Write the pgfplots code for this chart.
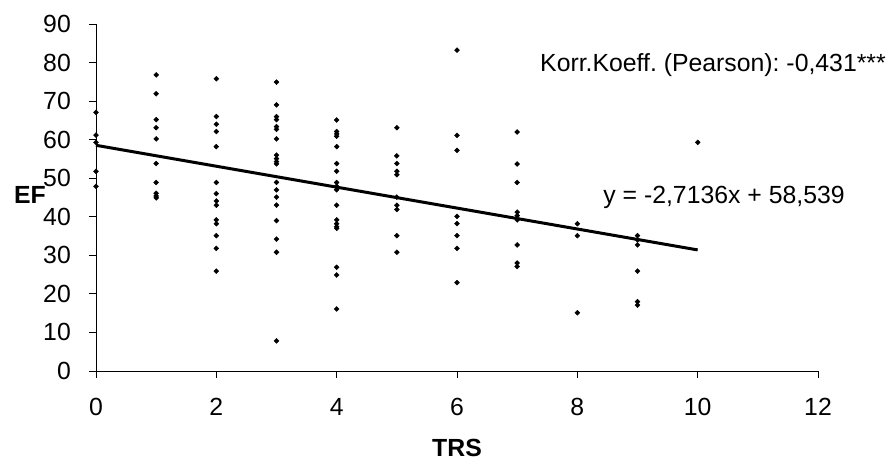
\documentclass[border=0pt]{standalone}
\usepackage{pgfplots}
\pgfplotsset{compat=1.18}
\usepackage{fontspec}
\setmainfont{Liberation Sans}
\frenchspacing
\begin{document}
\begin{tikzpicture}
\path[use as bounding box] (-96pt,-89pt) rectangle (793pt,371pt);
\begin{axis}[
  scale only axis,
  width=722pt, height=347pt,
  xmin=0, xmax=12, ymin=0, ymax=90,
  xtick={0,2,...,12}, ytick={0,10,...,90},
  axis x line=bottom, axis y line=left,
  axis line style={-, black, line width=0.8pt},
  tick align=outside, major tick length=7pt,
  tick style={black, line width=0.8pt},
  /pgf/number format/assume math mode=true,
  ticklabel style={font=\fontsize{24.8}{28}\selectfont},
  xticklabel style={inner sep=0pt, anchor=north, yshift=-20pt},
  yticklabel style={inner sep=0pt, anchor=east, xshift=-18pt},
  xlabel={TRS},
  xlabel style={font=\fontsize{24.8}{28}\selectfont\bfseries, at={(axis description cs:0.5,0)}, anchor=base, yshift=-85pt},
  clip=false,
]
\addplot[only marks, mark=square*, mark options={rotate=45}, mark size=1.75pt, black] table {
x y
0 67.1
0 61.2
0 59.3
0 51.8
0 47.9
1 76.8
1 71.9
1 65.2
1 63.1
1 60.2
1 53.8
1 48.9
1 46.1
1 45.4
1 44.9
2 75.8
2 66.0
2 64.0
2 62.1
2 58.2
2 48.9
2 46.0
2 44.1
2 43.0
2 39.2
2 38.2
2 35.1
2 31.8
2 25.9
3 74.9
3 69.0
3 66.0
3 65.2
3 63.4
3 62.7
3 60.2
3 56.0
3 55.1
3 54.3
3 53.7
3 48.9
3 47.0
3 45.1
3 43.0
3 39.0
3 34.2
3 30.8
3 7.8
4 65.1
4 62.1
4 61.5
4 60.9
4 58.2
4 53.8
4 51.8
4 48.9
4 47.9
4 47.0
4 43.0
4 39.2
4 38.2
4 37.4
4 37.0
4 26.9
4 24.9
4 16.1
5 63.1
5 55.8
5 53.8
5 51.8
5 50.9
5 45.1
5 43.0
5 41.9
5 35.1
5 30.8
6 83.2
6 61.1
6 57.2
6 40.1
6 38.2
6 35.1
6 31.8
6 22.9
7 62.0
7 53.7
7 48.9
7 41.2
7 40.3
7 39.2
7 32.7
7 28.0
7 27.1
8 38.2
8 35.1
8 15.1
9 35.1
9 34.0
9 32.7
9 25.9
9 18.0
9 17.1
10 59.3
};
\addplot[black, line width=3pt, no marks] coordinates {(0,58.539) (10,31.403)};
\node[anchor=base west, inner sep=0pt, font=\fontsize{24.8}{28}\selectfont] at (axis cs:7.38,77.6) {Korr.Koeff. (Pearson): -0,431***};
\node[anchor=base west, inner sep=0pt, font=\fontsize{24.8}{28}\selectfont] at (axis cs:8.43,43.35) {y = -2,7136x + 58,539};
\node[anchor=east, inner sep=0pt, font=\fontsize{24.8}{28}\selectfont\bfseries] at (axis cs:-0.83,45.7) {EF};
\end{axis}
\end{tikzpicture}
\end{document}
